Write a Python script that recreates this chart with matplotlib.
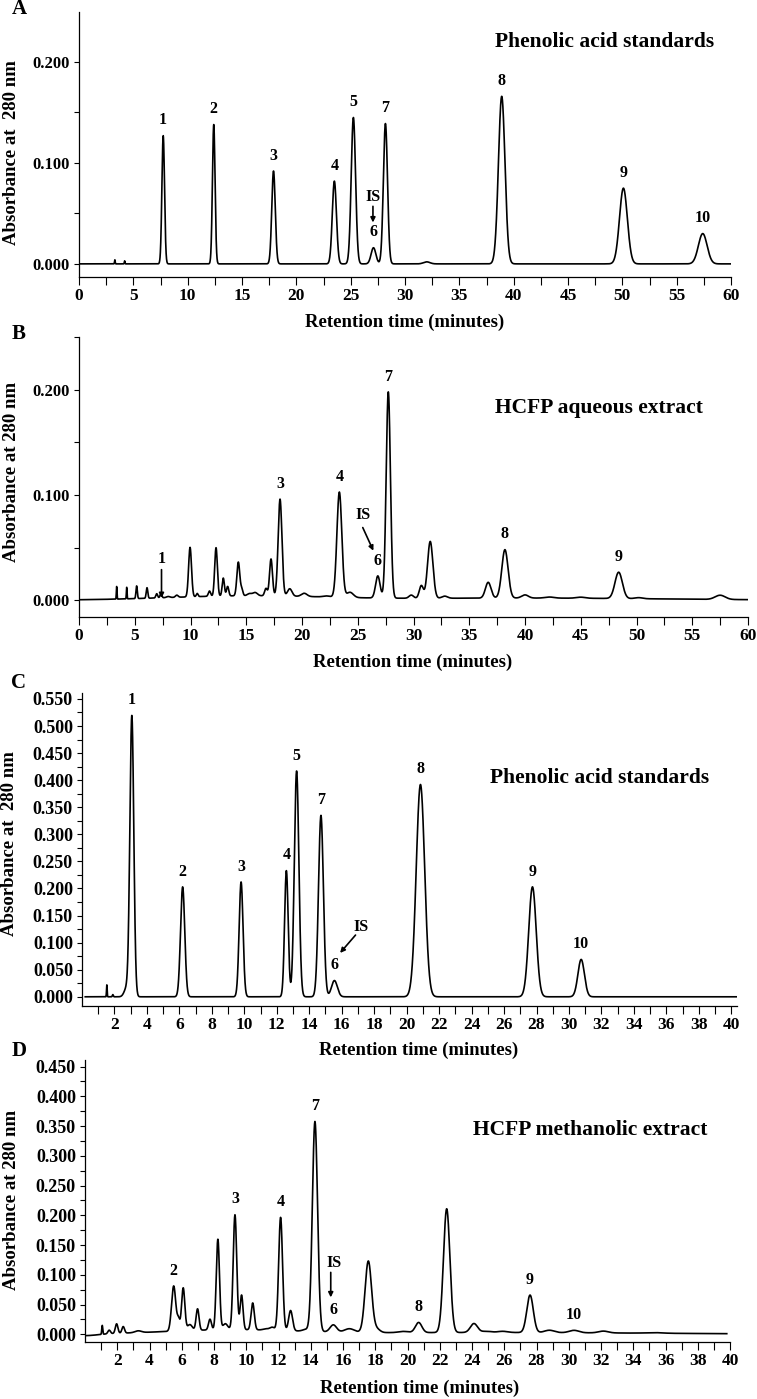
import numpy as np
import matplotlib
matplotlib.use('Agg')
import matplotlib.pyplot as plt
from matplotlib.ticker import MultipleLocator, FormatStrFormatter, FixedLocator

W, H = 757, 1399
plt.rcParams['font.family'] = ['Liberation Serif', 'DejaVu Serif']
plt.rcParams['font.weight'] = 'bold'

# ---------------- Panel A: phenolic acid standards (60 min) ----------------
A_times   = [3.3, 4.2, 7.75, 12.4, 17.9, 23.5, 25.25, 27.1, 28.2, 32.0, 38.9, 50.1, 57.4]
A_heights = [0.004, 0.003, 0.127, 0.138, 0.092, 0.082, 0.145, 0.016, 0.139, 0.002, 0.166, 0.075, 0.030]
A_widths  = [0.03, 0.03, 0.12, 0.12, 0.16, 0.19, 0.20, 0.22, 0.19, 0.3, 0.30, 0.36, 0.40]
A_labels      = ['1', '2', '3', '4', '5', '6', '7', '8', '9', '10']
A_label_times = [7.75, 12.4, 17.9, 23.5, 25.25, 27.1, 28.2, 38.9, 50.1, 57.4]

# ---------------- Panel B: HCFP aqueous extract (60 min) ----------------
B_times   = [3.38, 4.28, 5.17, 6.1, 6.97, 7.35, 8.0, 8.77, 9.96, 10.6, 11.7, 12.29, 12.94,
             13.33, 14.29, 14.6, 15.3, 15.8, 16.77, 17.22, 18.03, 18.9, 20.2, 22.2, 23.35,
             24.3, 26.8, 27.74, 29.8, 30.7, 31.5, 32.8, 36.7, 38.2, 40.0, 42.2, 45.0,
             48.4, 50.2, 57.5, 15.0, 40.0]
B_heights = [0.012, 0.011, 0.012, 0.010, 0.004, 0.004, 0.001, 0.002, 0.047, 0.003, 0.005,
             0.046, 0.017, 0.009, 0.032, 0.006, 0.002, 0.003, 0.007, 0.035, 0.092, 0.007,
             0.003, 0.001, 0.100, 0.005, 0.021, 0.196, 0.003, 0.012, 0.054, 0.002, 0.015,
             0.046, 0.003, 0.001, 0.001, 0.025, 0.001, 0.004, 0.004, 0.002]
B_widths  = [0.03, 0.03, 0.06, 0.07, 0.08, 0.08, 0.15, 0.12, 0.13, 0.08, 0.1, 0.12, 0.10,
             0.10, 0.13, 0.10, 0.2, 0.2, 0.12, 0.13, 0.17, 0.2, 0.25, 0.3, 0.22, 0.3, 0.2,
             0.19, 0.2, 0.18, 0.24, 0.25, 0.25, 0.28, 0.3, 0.4, 0.4, 0.33, 0.35, 0.45,
             7.0, 12.0]
B_labels      = ['3', '4', '6', '7', '8', '9']
B_label_times = [18.03, 23.35, 26.8, 27.74, 38.2, 48.4]

# ---------------- Panel C: phenolic acid standards (40 min) ----------------
C_times   = [1.53, 1.9, 2.75, 3.07, 6.2, 9.8, 12.59, 13.22, 14.72, 15.55, 20.85, 27.75, 30.75]
C_heights = [0.022, 0.004, 0.016, 0.518, 0.203, 0.212, 0.233, 0.417, 0.335, 0.030, 0.392, 0.203, 0.069]
C_widths  = [0.02, 0.03, 0.15, 0.12, 0.13, 0.12, 0.11, 0.14, 0.15, 0.18, 0.26, 0.23, 0.2]
C_labels      = ['1', '2', '3', '4', '5', '7', '6', '8', '9', '10']
C_label_times = [3.07, 6.2, 9.8, 12.59, 13.22, 14.72, 15.55, 20.85, 27.75, 30.75]

# ---------------- Panel D: HCFP methanolic extract (40 min) ----------------
D_times   = [1.07, 1.5, 1.96, 2.37, 3.3, 5.5, 5.8, 6.09, 6.5, 6.98, 7.75, 8.24, 8.7, 9.3,
             9.71, 10.4, 11.2, 11.6, 12.13, 12.75, 13.7, 14.26, 15.4, 16.4, 17.57, 18.09,
             19.74, 20.69, 22.43, 24.12, 24.9, 25.9, 27.6, 28.8, 30.33, 32.15, 35.3,
             9.0, 25.0, 0.0]
D_heights = [0.015, 0.006, 0.016, 0.011, 0.003, 0.076, 0.018, 0.072, 0.010, 0.036, 0.018,
             0.152, 0.010, 0.193, 0.058, 0.045, 0.002, 0.005, 0.190, 0.034, 0.003, 0.353,
             0.012, 0.006, 0.120, 0.006, 0.002, 0.017, 0.208, 0.015, 0.002, 0.002, 0.063,
             0.004, 0.004, 0.003, 0.001, 0.007, 0.003, -0.003]
D_widths  = [0.03, 0.08, 0.08, 0.08, 0.2, 0.13, 0.08, 0.1, 0.15, 0.09, 0.09, 0.1, 0.15,
             0.11, 0.09, 0.1, 0.15, 0.15, 0.12, 0.12, 0.2, 0.16, 0.2, 0.3, 0.2, 0.2, 0.3,
             0.2, 0.2, 0.22, 0.3, 0.3, 0.2, 0.3, 0.3, 0.3, 0.5, 4.0, 10.0, 0.8]
D_labels      = ['2', '3', '4', '7', '6', '8', '9', '10']
D_label_times = [5.5, 9.3, 12.13, 14.26, 15.4, 20.69, 27.6, 30.33]


def trace(t, times, heights, widths):
    y = np.zeros_like(t)
    for c, h, s in zip(times, heights, widths):
        y += h * np.exp(-0.5 * ((t - c) / s) ** 2)
    return y


def rect(l, r, t, b):
    return [l / W, 1 - b / H, (r - l) / W, (b - t) / H]


def ftext(fig, x, y, s, **kw):
    fig.text(x / W, 1 - y / H, s, **kw)


fig = plt.figure(figsize=(W / 100, H / 100), dpi=100)

PK = 11.5  # peak label size

panels = [
    dict(rect=rect(79, 731, 12, 277), data=(A_times, A_heights, A_widths), t0=0.0, t1=60.0,
         xlim=(0, 60), ylim=(-0.013, 0.2495), xmaj=5, xmin=2.5, ymaj=0.1, ymin=0.05,
         labels=(A_labels, A_label_times), tsize=12.5, ysize=12),
    dict(rect=rect(79, 748, 337, 617), data=(B_times, B_heights, B_widths), t0=0.0, t1=60.0,
         xlim=(0, 60), ylim=(-0.016, 0.2501), xmaj=5, xmin=2.5, ymaj=0.1, ymin=0.05,
         labels=(B_labels, B_label_times), tsize=12.5, ysize=12),
    dict(rect=rect(82, 737, 693, 1006), data=(C_times, C_heights, C_widths), t0=0.2, t1=40.3,
         xlim=(0, 40.35), ylim=(-0.017, 0.561), xmaj=None, xmin=None, ymaj=0.05, ymin=0.025,
         labels=(C_labels, C_label_times), tsize=12.5, ysize=13),
    dict(rect=rect(85, 730, 1060, 1342), data=(D_times, D_heights, D_widths), t0=0.0, t1=39.8,
         xlim=(0, 40), ylim=(-0.013, 0.461), xmaj=None, xmin=None, ymaj=0.05, ymin=0.025,
         labels=(D_labels, D_label_times), tsize=12.5, ysize=13),
]

axes = []
for p in panels:
    ax = fig.add_axes(p['rect'])
    t = np.linspace(p['t0'], p['t1'], 8000)
    y = trace(t, *p['data'])
    ax.plot(t, y, color='black', lw=1.2)
    ax.set_xlim(*p['xlim'])
    ax.set_ylim(*p['ylim'])
    for s in ('top', 'right'):
        ax.spines[s].set_visible(False)
    for s in ('left', 'bottom'):
        ax.spines[s].set_linewidth(0.9)
    if p['xmaj'] is not None:
        ax.xaxis.set_major_locator(MultipleLocator(p['xmaj']))
        ax.xaxis.set_minor_locator(MultipleLocator(p['xmin']))
    else:
        ax.xaxis.set_major_locator(FixedLocator(list(range(2, 41, 2))))
        ax.xaxis.set_minor_locator(FixedLocator(list(range(1, 40, 2))))
    ax.yaxis.set_major_locator(MultipleLocator(p['ymaj']))
    ax.yaxis.set_minor_locator(MultipleLocator(p['ymin']))
    ax.yaxis.set_major_formatter(FormatStrFormatter('%.3f'))
    ax.tick_params(axis='x', which='both', direction='out', length=5.5, width=0.8,
                   pad=2.5, labelsize=p['tsize'])
    ax.tick_params(axis='y', which='both', direction='out', length=3.5, width=0.8,
                   pad=3, labelsize=p['ysize'])
    for lab in ax.get_xticklabels() + ax.get_yticklabels():
        lab.set_fontweight('bold')
    labs, ltimes = p['labels']
    for s, lt in zip(labs, ltimes):
        m = (t > lt - 0.3) & (t < lt + 0.3)
        ypk = y[m].max()
        ax.annotate(s, xy=(lt, ypk), xytext=(0, 11), textcoords='offset points',
                    ha='center', va='center', fontsize=PK, fontweight='bold')
    axes.append(ax)

axA, axB, axC, axD = axes
arrow = dict(arrowstyle='-|>', color='black', lw=1.2, mutation_scale=7,
             shrinkA=0, shrinkB=0)

# IS annotations
axA.text(27.05, 0.066, 'IS', ha='center', va='center', fontsize=PK, fontweight='bold')
axA.annotate('', xy=(27.05, 0.041), xytext=(27.05, 0.057), arrowprops=arrow)

axB.text(25.5, 0.081, 'IS', ha='center', va='center', fontsize=PK, fontweight='bold')
axB.annotate('', xy=(26.4, 0.047), xytext=(25.45, 0.069), arrowprops=arrow)
axB.text(7.4, 0.039, '1', ha='center', va='center', fontsize=PK, fontweight='bold')
axB.annotate('', xy=(7.4, 0.002), xytext=(7.4, 0.029), arrowprops=arrow)

axC.text(17.17, 0.129, 'IS', ha='center', va='center', fontsize=PK, fontweight='bold')
axC.annotate('', xy=(15.9, 0.081), xytext=(16.85, 0.114), arrowprops=arrow)

axD.text(15.43, 0.12, 'IS', ha='center', va='center', fontsize=PK, fontweight='bold')
axD.annotate('', xy=(15.24, 0.062), xytext=(15.24, 0.104), arrowprops=arrow)

# titles
tkw = dict(ha='center', va='center', fontsize=15.5, fontweight='bold')
ftext(fig, 605, 42, 'Phenolic acid standards', **tkw)
ftext(fig, 599, 408, 'HCFP aqueous extract', **tkw)
ftext(fig, 600, 778, 'Phenolic acid standards', **tkw)
ftext(fig, 590, 1130, 'HCFP methanolic extract', **tkw)

# axis labels
lkw = dict(ha='center', va='center', fontsize=13.5, fontweight='bold')
ftext(fig, 405, 322, 'Retention time (minutes)', **lkw)
ftext(fig, 413, 662, 'Retention time (minutes)', **lkw)
ftext(fig, 419, 1050, 'Retention time (minutes)', **lkw)
ftext(fig, 420, 1388, 'Retention time (minutes)', **lkw)
ftext(fig, 12, 153, 'Absorbance at  280 nm', rotation=90, **lkw)
ftext(fig, 12, 472, 'Absorbance at 280 nm', rotation=90, **lkw)
ftext(fig, 10, 844, 'Absorbance at  280 nm', rotation=90, **lkw)
ftext(fig, 12, 1200, 'Absorbance at 280 nm', rotation=90, **lkw)

# panel letters
pkw = dict(ha='center', va='center', fontsize=15, fontweight='bold')
ftext(fig, 19, 9, 'A', **pkw)
ftext(fig, 19, 334, 'B', **pkw)
ftext(fig, 19, 683, 'C', **pkw)
ftext(fig, 19, 1051, 'D', **pkw)

fig.savefig('out.png', dpi=100)
